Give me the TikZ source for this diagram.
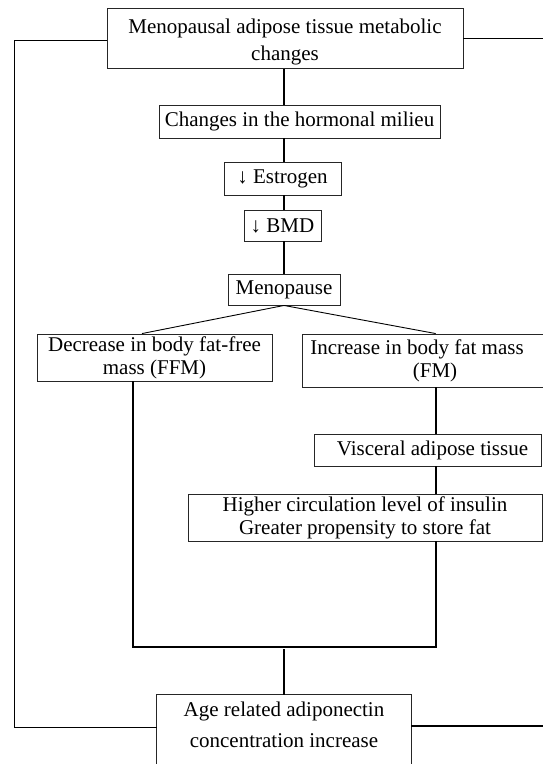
\documentclass[tikz,border=0pt]{standalone}
\usepackage{fontspec}
\setmainfont{Liberation Serif}
\begin{document}
\begin{tikzpicture}[x=1pt,y=-1pt,
  box/.style={draw=black!85, line width=0.9pt, inner sep=0pt, align=center,
    font=\fontsize{21}{23}\selectfont},
  boxline/.style={draw=black!85, line width=0.9pt},
  heavy/.style={draw=black, line width=1.6pt},
  light/.style={draw=black, line width=0.9pt}]
\useasboundingbox (0,0) rectangle (543,764);
\clip (0,0) rectangle (543,764);

% reference coordinates
\coordinate (lo) at (14.5,0);
\coordinate (ro) at (545,0);
\coordinate (jl) at (133,647);
\coordinate (jr) at (435.7,647);

% boxes
\node[box, minimum width=356pt, minimum height=60pt] (top) at (285,38.5) {};
\node[inner sep=0pt, align=center, font=\fontsize{21}{27}\selectfont]
  (toptext) at ([yshift=-3.5pt]top.center) {Menopausal adipose tissue metabolic\\changes};
\node[box, minimum width=281pt, minimum height=33pt] (chg) at (299.5,121.5) {Changes in the hormonal milieu};
\node[box, minimum width=117pt, minimum height=33pt] (est) at (282.5,178.5) {↓ Estrogen};
\node[box, minimum width=77pt, minimum height=31pt] (bmd) at (282.5,225.5) {↓ BMD};
\node[box, minimum width=112pt, minimum height=31pt] (meno) at (284,289.5) {Menopause};
\node[box, minimum width=235pt, minimum height=47pt] (ffm) at (154.5,357.5) {Decrease in body fat-free\\mass (FFM)};
\node[box, minimum width=266pt, minimum height=53pt] (fm) at (435,360.5) {Increase in body fat mass\hspace*{36pt}\\(FM)};
\node[box, minimum width=227pt, minimum height=32pt] (visc) at (427.5,450) {\hspace*{10pt}Visceral adipose tissue};
\node[box, minimum width=354pt, minimum height=47pt] (high) at (365,517.5) {Higher circulation level of insulin\\Greater propensity to store fat};
\node[inner sep=0pt, minimum width=254pt, minimum height=60pt, align=center,
  font=\fontsize{21}{31}\selectfont] (age) at (284,725) {Age related adiponectin\\concentration increase};
\draw[boxline] ([yshift=-30pt]age.south west) -- (age.north west) -- (age.north east) -- ([yshift=-30pt]age.south east);

% central chain
\draw[heavy] (top.south -| meno) -- (chg.north -| meno);
\draw[heavy] (chg.south -| meno) -- (est.north -| meno);
\draw[heavy] (est.south -| meno) -- (bmd.north -| meno);
\draw[heavy] (bmd.south -| meno) -- (meno.north);

% split
\draw[light] (meno.south) -- ([xshift=-12.5pt]ffm.north);
\draw[light] (meno.south) -- (fm.north -| jr);

% right column
\draw[heavy] (fm.south -| jr) -- (visc.north -| jr);
\draw[heavy] (visc.south -| jr) -- (high.north -| jr);

% join
\draw[heavy] (ffm.south -| jl) -- (jl) -- (jr) -- (high.south -| jr);
\draw[heavy] ([yshift=-2pt]jl -| age) -- (age.north);

% outer loops
\draw[light] ([yshift=-1.5pt]top.west) -- ([yshift=-1.5pt]top.west -| lo);
\draw[heavy] ([yshift=-1.5pt]top.west -| lo) -- ([yshift=-2.5pt]age.west -| lo);
\draw[light] ([yshift=-2.5pt]age.west -| lo) -- ([yshift=-2.5pt]age.west);
\draw[light] (top.east) -- (top.east -| ro);
\draw[heavy] ([yshift=-1pt]age.east) -- ([yshift=-1pt]age.east -| ro);
\end{tikzpicture}
\end{document}
